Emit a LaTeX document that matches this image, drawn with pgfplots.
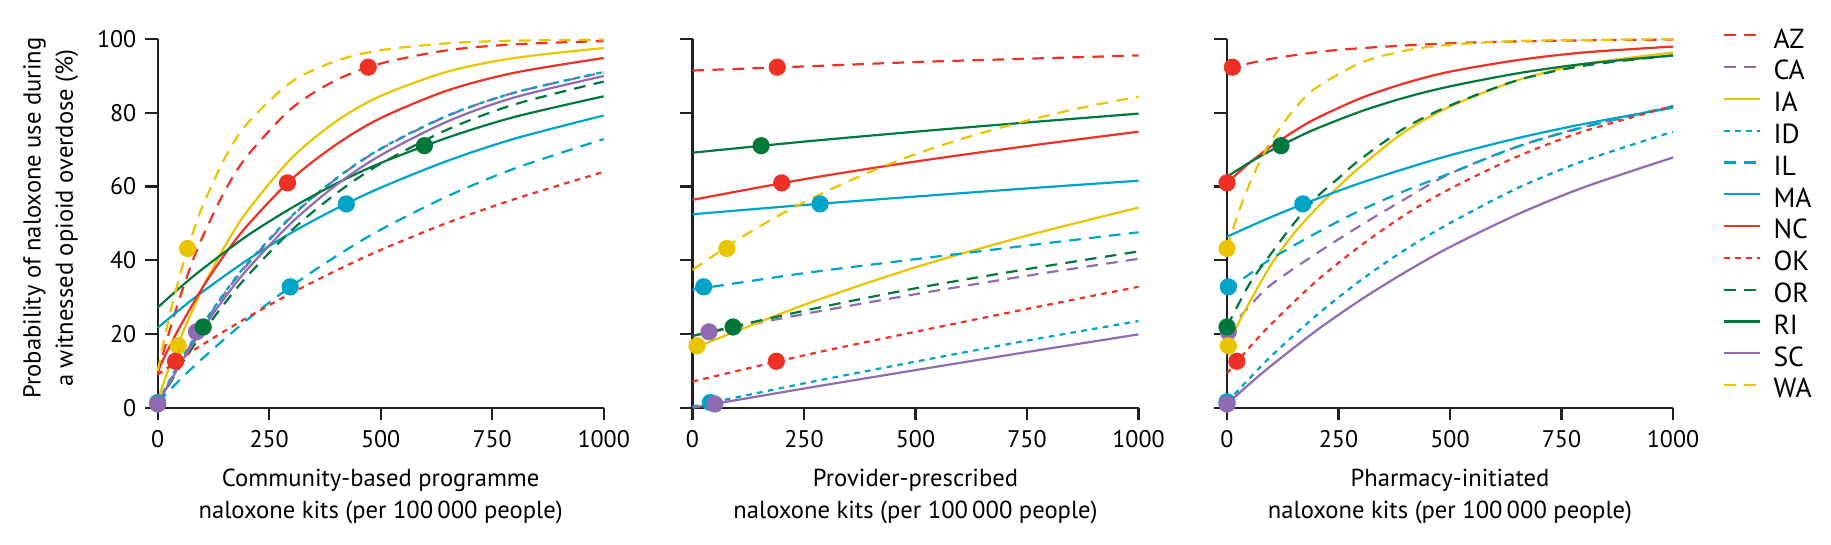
\documentclass[border=0pt]{standalone}
\usepackage{fontspec}
\setmainfont{PT Sans}
\usepackage{pgfplots}
\pgfplotsset{compat=1.18}
\definecolor{cRed}{HTML}{EE3124}
\definecolor{cPur}{HTML}{8F6BB1}
\definecolor{cYel}{HTML}{E8C500}
\definecolor{cCya}{HTML}{00A3C8}
\definecolor{cGre}{HTML}{00783C}
\definecolor{axc}{HTML}{231F20}
\newcommand{\ft}{\fontsize{12}{14}\selectfont}
\newcommand{\fs}{\fontsize{12.3}{16.15}\selectfont}
\newcommand{\fl}{\fontsize{13.8}{15.8}\selectfont}
\pgfplotsset{
  panel/.style={scale only axis, width=223pt, height=184.25pt,
    xmin=0, xmax=1000, ymin=0, ymax=100,
    axis lines=left, axis line style={-, line width=1.1pt, color=axc},
    tick style={line width=1.1pt, color=axc}, tick align=outside,
    major tick length=6.3pt,
    xtick={0,250,500,750,1000}, xticklabels={0,250,500,750,1000},
    ytick={0,20,40,60,80,100},
    clip=false,
    /pgf/number format/assume math mode=true,
    tick label style={font=\ft, text=black, inner sep=1pt},
    xticklabel style={yshift=-3.85pt},
    yticklabel style={xshift=-3.2pt},
    label style={font=\fs, text=black},
    xlabel style={align=center, inner sep=0pt, at={(axis description cs:0.5,-0.1644)}, anchor=north},
    every axis plot/.append style={line width=1.1pt, smooth},
  },
  LD/.style={dash pattern=on 5.8pt off 4.2pt},
  SD/.style={dash pattern=on 2.8pt off 2.7pt},
  AZ/.style={cRed, LD}, CA/.style={cPur, LD}, IA/.style={cYel},
  ID/.style={cCya, SD}, IL/.style={cCya, LD}, MA/.style={cCya},
  NC/.style={cRed}, OK/.style={cRed, SD}, OR/.style={cGre, LD},
  RI/.style={cGre}, SC/.style={cPur}, WA/.style={cYel, LD},
  dot/.style={only marks, mark=*, mark size=3.75pt, forget plot, mark options={solid}},
}
\newcommand{\legent}[1]{\addlegendentry{\hspace*{6pt}#1}}
\begin{document}
\begin{tikzpicture}
\path[use as bounding box] (-78.85pt,-68.65pt) rectangle (836.65pt,203.85pt);
% ---------------- Panel 1: community-based
\begin{axis}[panel, at={(0pt,0pt)}, anchor=south west,
  yticklabels={0,20,40,60,80,100},
  ylabel={Probability of naloxone use during\\a witnessed opioid overdose (\%)},
  ylabel style={align=center, inner sep=0pt, at={(axis description cs:-0.24,0.5145)}, anchor=center},
  xlabel={Community-based programme\\naloxone kits (per 100\,000 people)}]
\addplot[AZ] coordinates {(0,9)(25,20.2)(50,30.0)(75,38.7)(100,46.2)(150,58.7)(200,68.2)(300,81.2)(400,88.9)(500,93.4)(650,97.0)(800,98.6)(1000,99.5)};
\addplot[CA] coordinates {(0,1)(50,12.2)(100,22.1)(150,30.9)(200,38.7)(300,51.8)(400,62.1)(500,70.2)(650,79.2)(800,85.5)(1000,91.0)};
\addplot[IA] coordinates {(0,2)(25,10.7)(50,18.6)(100,32.3)(150,43.7)(200,53.2)(300,67.7)(400,77.7)(500,84.6)(650,91.2)(800,94.9)(1000,97.6)};
\addplot[ID] coordinates {(0,1.4)(50,12.5)(100,22.4)(150,31.2)(200,39.0)(300,52.0)(400,62.2)(500,70.3)(650,79.3)(800,85.5)(1000,91.1)};
\addplot[IL] coordinates {(0,1.4)(50,7.6)(100,13.3)(200,23.8)(300,33.0)(400,41.1)(500,48.3)(650,57.4)(800,64.9)(1000,72.9)};
\addplot[MA] coordinates {(0,21.7)(50,26.7)(100,31.4)(200,40.0)(300,47.5)(400,54.0)(500,59.7)(650,67.0)(800,73.0)(1000,79.3)};
\addplot[NC] coordinates {(0,10)(25,16.2)(50,22.0)(100,32.5)(150,41.5)(200,49.3)(300,62.0)(400,71.4)(500,78.6)(650,86.1)(800,90.9)(1000,94.9)};
\addplot[OK] coordinates {(0,9)(50,13.1)(100,17.1)(200,24.4)(300,31.1)(400,37.2)(500,42.8)(650,50.2)(800,56.6)(1000,64.0)};
\addplot[OR] coordinates {(0,1)(50,11.1)(100,20.2)(150,28.3)(200,35.6)(300,48.1)(400,58.1)(500,66.2)(650,75.5)(800,82.3)(1000,88.5)};
\addplot[RI] coordinates {(0,27.2)(50,32.6)(100,37.6)(200,46.6)(300,54.2)(400,60.8)(500,66.4)(650,73.3)(800,78.9)(1000,84.5)};
\addplot[SC] coordinates {(0,1)(50,11.7)(100,21.3)(150,29.8)(200,37.4)(300,50.2)(400,60.4)(500,68.5)(650,77.7)(800,84.2)(1000,90.0)};
\addplot[WA] coordinates {(0,10)(25,24.1)(50,36.0)(75,46.0)(100,54.5)(150,67.6)(200,77.0)(300,88.4)(400,94.1)(500,97.0)(650,98.9)(800,99.6)(1000,99.9)};
\addplot[dot, cRed] coordinates {(472,92.4)};
\addplot[dot, cPur] coordinates {(87,20.6)};
\addplot[dot, cYel] coordinates {(46,16.8)};
\addplot[dot, cCya] coordinates {(0,1.4)};
\addplot[dot, cCya] coordinates {(297,32.8)};
\addplot[dot, cCya] coordinates {(423,55.3)};
\addplot[dot, cRed] coordinates {(291,61)};
\addplot[dot, cRed] coordinates {(40,12.6)};
\addplot[dot, cGre] coordinates {(102,21.9)};
\addplot[dot, cGre] coordinates {(598,71.1)};
\addplot[dot, cPur] coordinates {(0,1.0)};
\addplot[dot, cYel] coordinates {(67,43.2)};
\end{axis}
% ---------------- Panel 2: provider-prescribed
\begin{axis}[panel, at={(267.4pt,0pt)}, anchor=south west,
  yticklabels={},
  xlabel={Provider-prescribed\\naloxone kits (per 100\,000 people)}]
\addplot[AZ] coordinates {(0,91.5)(250,92.6)(500,93.8)(750,94.7)(1000,95.6)};
\addplot[CA] coordinates {(0,19.5)(250,25.4)(500,30.8)(750,35.8)(1000,40.4)};
\addplot[IA] coordinates {(0,16)(250,27.9)(500,38.1)(750,46.7)(1000,54.3)};
\addplot[ID] coordinates {(0,0.3)(250,6.6)(500,12.5)(750,18.2)(1000,23.5)};
\addplot[IL] coordinates {(0,32)(250,36.5)(500,40.3)(750,44)(1000,47.6)};
\addplot[MA] coordinates {(0,52.5)(250,55)(500,57.3)(750,59.5)(1000,61.6)};
\addplot[NC] coordinates {(0,56.4)(250,62)(500,66.8)(750,71)(1000,74.9)};
\addplot[OK] coordinates {(0,7.1)(250,14.2)(500,20.6)(750,26.8)(1000,32.8)};
\addplot[OR] coordinates {(0,19.5)(250,26.3)(500,32.4)(750,37.6)(1000,42.4)};
\addplot[RI] coordinates {(0,69.2)(250,72.2)(500,74.9)(750,77.4)(1000,79.8)};
\addplot[SC] coordinates {(0,0)(250,5.2)(500,10.2)(750,15.1)(1000,19.9)};
\addplot[WA] coordinates {(0,37.4)(100,45.5)(200,52.6)(300,58.7)(400,64.1)(500,68.8)(600,72.8)(700,76.3)(800,79.4)(900,82.1)(1000,84.4)};
\addplot[dot, cRed] coordinates {(190,92.4)};
\addplot[dot, cPur] coordinates {(37,20.6)};
\addplot[dot, cYel] coordinates {(10,16.8)};
\addplot[dot, cCya] coordinates {(40,1.4)};
\addplot[dot, cCya] coordinates {(25,32.8)};
\addplot[dot, cCya] coordinates {(286,55.3)};
\addplot[dot, cRed] coordinates {(200,61)};
\addplot[dot, cRed] coordinates {(188,12.6)};
\addplot[dot, cGre] coordinates {(91,21.9)};
\addplot[dot, cGre] coordinates {(154,71.1)};
\addplot[dot, cPur] coordinates {(50,1.0)};
\addplot[dot, cYel] coordinates {(77,43.2)};
\end{axis}
% ---------------- Panel 3: pharmacy-initiated
\begin{axis}[panel, at={(534.65pt,0pt)}, anchor=south west,
  yticklabels={},
  xlabel={Pharmacy-initiated\\naloxone kits (per 100\,000 people)},
  legend style={at={(axis cs:1112,102.3)}, anchor=north west, draw=none, fill=none,
    inner sep=0pt, font=\fl, row sep=5.65pt,
    nodes={inner sep=0pt, text height=8.5pt, text depth=1.75pt}},
  legend cell align=left,
  legend image code/.code={\draw[#1, line width=1.1pt] (0pt,0.6ex) -- (18pt,0.6ex);}]
\addplot[AZ] coordinates {(0,92.0)(100,94.7)(250,97.1)(500,98.9)(750,99.6)(1000,99.9)};
\legent{AZ}
\addplot[CA] coordinates {(0,20.6)(50,27.5)(100,33.5)(200,41.8)(300,49.5)(400,56.7)(500,63.5)(650,70.8)(800,76.2)(1000,81.8)};
\legent{CA}
\addplot[IA] coordinates {(0,17)(50,28.5)(100,39)(150,47.3)(200,54)(250,60)(300,65.5)(400,75)(500,81.7)(650,88.8)(800,93.2)(1000,96.4)};
\legent{IA}
\addplot[ID] coordinates {(0,1.5)(50,7.9)(100,14.1)(200,25.0)(300,34.6)(400,42.9)(500,50.1)(650,59.5)(800,67.0)(1000,74.9)};
\legent{ID}
\addplot[IL] coordinates {(0,32)(50,36.2)(100,40.5)(200,47.4)(300,53.6)(400,58.9)(500,63.6)(650,70.8)(800,76.1)(1000,81.8)};
\legent{IL}
\addplot[MA] coordinates {(0,46.4)(100,51.8)(200,56.6)(300,61.0)(400,64.9)(500,68.5)(650,73.1)(800,77.0)(1000,81.4)};
\legent{MA}
\addplot[NC] coordinates {(0,61)(50,66.4)(100,71.0)(150,75.0)(200,78.5)(300,84.0)(400,88.1)(500,91.2)(650,94.3)(800,96.4)(1000,98.0)};
\legent{NC}
\addplot[OK] coordinates {(0,9.3)(50,16.3)(100,22.8)(200,34.3)(300,44.0)(400,52.4)(500,59.4)(650,68.1)(800,75.0)(1000,81.9)};
\legent{OK}
\addplot[OR] coordinates {(0,22)(50,33.5)(100,42)(150,50)(200,57)(250,62.3)(300,67.5)(400,76)(500,82)(650,88.8)(800,92.8)(1000,95.6)};
\legent{OR}
\addplot[RI] coordinates {(0,62.7)(50,66.5)(100,69.9)(150,72.9)(200,75.7)(300,80.4)(400,84.2)(500,87.2)(650,90.7)(800,93.3)(1000,95.6)};
\legent{RI}
\addplot[SC] coordinates {(0,1)(50,6.4)(100,11.5)(200,20.9)(300,29.3)(400,36.8)(500,43.6)(650,52.4)(800,59.8)(1000,67.9)};
\legent{SC}
\addplot[WA] coordinates {(0,43.3)(25,52.7)(50,60.6)(75,67.1)(100,72.6)(150,80.9)(200,86.8)(300,93.6)(400,96.9)(500,98.5)(650,99.5)(800,99.8)(1000,100)};
\legent{WA}
\addplot[dot, cRed] coordinates {(12,92.4)};
\addplot[dot, cPur] coordinates {(3,20.6)};
\addplot[dot, cYel] coordinates {(3,16.8)};
\addplot[dot, cCya] coordinates {(0,1.6)};
\addplot[dot, cCya] coordinates {(3,32.8)};
\addplot[dot, cCya] coordinates {(170,55.3)};
\addplot[dot, cRed] coordinates {(0,61)};
\addplot[dot, cRed] coordinates {(22,12.6)};
\addplot[dot, cGre] coordinates {(0,21.9)};
\addplot[dot, cGre] coordinates {(121,71.1)};
\addplot[dot, cPur] coordinates {(0,1.0)};
\addplot[dot, cYel] coordinates {(0,43.2)};
\end{axis}
\end{tikzpicture}
\end{document}
